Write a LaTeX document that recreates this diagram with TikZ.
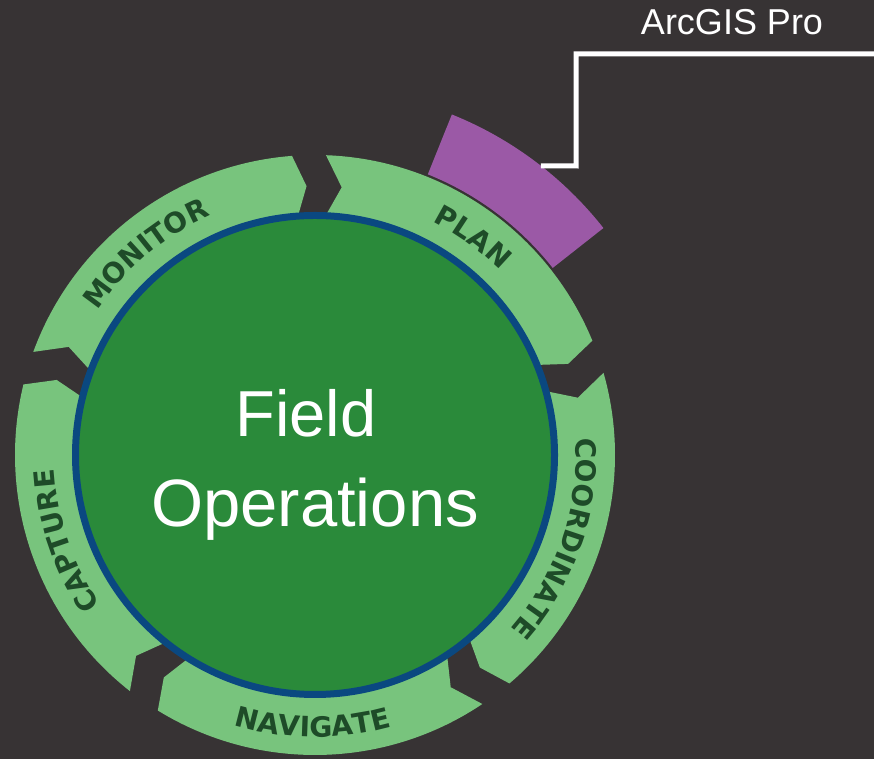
\documentclass[tikz,border=0pt]{standalone}
\usepackage{fontspec}
\setmainfont{Liberation Sans}
\newfontfamily\labfont{DejaVu Sans}[LetterSpace=6]
\usetikzlibrary{decorations.text}
\definecolor{bgc}{RGB}{55,51,52}
\definecolor{ringc}{RGB}{120,196,125}
\definecolor{corec}{RGB}{42,138,58}
\definecolor{bluec}{RGB}{10,72,128}
\definecolor{purpc}{RGB}{155,89,166}
\definecolor{labc}{RGB}{30,75,40}
\newcommand\labstyle{\labfont\bfseries\fontsize{28}{30}\selectfont\color{labc}}
\tikzset{
  seglab/.style={decorate, decoration={text along path, text align=center, text={|\labstyle|#1}}},
  wtext/.style={text=white, inner sep=0pt, anchor=base},
  link/.style={draw=white, line width=5pt, line join=miter}
}
\begin{document}
\begin{tikzpicture}[x=1pt,y=1pt]
\fill[bgc] (0,0) rectangle (874,759);
\useasboundingbox (0,0) rectangle (874,759);
\begin{scope}[shift={(315,304)}]
  % ring segments (clockwise chevrons)
  \foreach \a in {87.9,15.9,-56.1,-128.1,-200.1}{
    \pgfmathsetmacro\b{\a-65.5}
    \fill[ringc] (\a:300) arc[start angle=\a, end angle=\b, radius=300]
      -- ({\b-2.6}:269) -- (\b:236) arc[start angle=\b, end angle=\a, radius=236]
      -- ({\a-3.6}:269) -- cycle;
  }
  % purple sector
  \fill[purpc] (68.1:367) arc[start angle=68.1, end angle=38.2, radius=367]
    -- (38.2:302.5) arc[start angle=38.2, end angle=68.1, radius=302.5] -- cycle;
  \coordinate (pp) at (52:367);
  \coordinate (bend) at (261,289);
  \coordinate (lineend) at (565,401);
  \draw[link] (pp) -- (bend) |- (lineend);
  % labels
  \path[seglab=PLAN] (94:261) arc[start angle=94, end angle=14, radius=261];
  \path[seglab=MONITOR] (170:261) arc[start angle=170, end angle=90, radius=261];
  \path[seglab=COORDINATE] (26:261) arc[start angle=26, end angle=-64, radius=261];
  \path[seglab=CAPTURE] (-121:261) arc[start angle=-121, end angle=-201, radius=261];
  \path[seglab=NAVIGATE] (-130.5:282) arc[start angle=-130.5, end angle=-50.5, radius=282];
  % core
  \node[circle, fill=corec, draw=bluec, line width=7pt, minimum size=479pt, inner sep=0pt] (core) at (0,0) {};
  \node[wtext, font=\fontsize{65}{70}\selectfont] (field) at (-9,18) {Field};
  \node[wtext, font=\fontsize{67}{70}\selectfont] (ops) at (0,-72) {Operations};
\end{scope}
\node[wtext, font=\fontsize{36}{40}\selectfont] (arc) at (732,724) {ArcGIS Pro};
\end{tikzpicture}
\end{document}
